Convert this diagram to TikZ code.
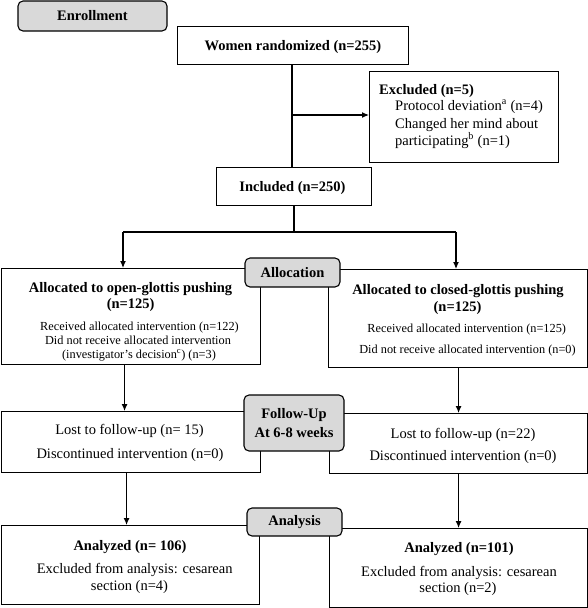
\documentclass[tikz,border=0pt]{standalone}
\usepackage{fontspec}
\setmainfont{Liberation Serif}
\usetikzlibrary{arrows.meta}
\definecolor{labelgray}{RGB}{217,217,217}
\begin{document}
\begin{tikzpicture}[x=1pt,y=-1pt,
  box/.style={draw, line width=1.1pt, inner sep=0pt, anchor=north west},
  stage/.style={draw, line width=1.1pt, fill=labelgray, rounded corners=5pt, inner sep=0pt,
     font=\fontsize{14.5}{19}\selectfont\bfseries, align=center},
  big/.style={font=\fontsize{14.5}{17}\selectfont, inner sep=0pt, anchor=base},
  bigb/.style={font=\fontsize{14.5}{17}\selectfont\bfseries, inner sep=0pt, anchor=base},
  small/.style={font=\fontsize{12.3}{14}\selectfont, inner sep=0pt, anchor=base},
  conn/.style={line width=1.1pt},
  arr/.style={line width=1.1pt, -{Latex[length=7pt,width=6pt]}}]
\useasboundingbox (0,0) rectangle (588,608);

% boxes
\node[box, minimum width=231pt, minimum height=38pt] (rand) at (177,26) {};
\node[box, minimum width=189pt, minimum height=91pt] (excl) at (369,71) {};
\node[box, minimum width=155pt, minimum height=38pt] (incl) at (216,167) {};
\node[box, minimum width=259pt, minimum height=96pt] (open) at (1,268) {};
\node[box, minimum width=259pt, minimum height=98pt] (closed) at (328,269) {};
\node[box, minimum width=259pt, minimum height=61pt] (fuL) at (1,411) {};
\node[box, minimum width=258pt, minimum height=60pt] (fuR) at (329,413) {};
\node[box, minimum width=258pt, minimum height=79pt] (anL) at (1,525) {};
\node[box, minimum width=258pt, minimum height=79pt] (anR) at (329,528) {};

% connectors
\coordinate (br) at (292,115);
\coordinate (sl) at (123,232);
\coordinate (sr) at (456,232);
\draw[conn] (rand.south -| br) -- (br |- incl.north);
\draw[arr] (br) -- (excl.west |- br);
\draw[conn] (incl.south -| 294,0) -- (294,232);
\draw[conn] (sl) -- (sr);
\draw[arr] (sl) -- (sl |- open.north);
\draw[arr] (sr) -- (sr |- closed.north);
\draw[arr] ([xshift=-6.5pt]open.south) -- ([xshift=-6.5pt]open.south |- fuL.north);
\draw[arr] ([xshift=0.5pt]closed.south) -- ([xshift=0.5pt]closed.south |- fuR.north);
\draw[arr] ([xshift=-4.5pt]fuL.south) -- ([xshift=-4.5pt]fuL.south |- anL.north);
\draw[arr] (fuR.south) -- (fuR.south |- anR.north);

% stage labels
\node[stage, minimum width=149pt, minimum height=30pt] (enr) at (92.5,16) {Enrollment};
\node[stage, minimum width=95pt, minimum height=29pt] (alloc) at (292.5,272.5) {Allocation};
\node[stage, minimum width=100pt, minimum height=56pt] (fu) at (294,423) {Follow-Up\\At 6-8 weeks};
\node[stage, minimum width=95pt, minimum height=28pt] (ana) at (294.5,522) {Analysis};

% texts
\node[bigb] (t-rand) at (293,50.5) {Women randomized (n=255)};
\node[bigb, anchor=base west] (t-excl) at (379,94) {Excluded (n=5)};
\node[big, anchor=base west] (t-excl1) at (395,110) {Protocol deviation\textsuperscript{a} (n=4)};
\node[big, anchor=base west] (t-excl2) at (395,128) {Changed her mind about};
\node[big, anchor=base west] (t-excl3) at (395,145) {participating\textsuperscript{b} (n=1)};
\node[bigb] (t-incl) at (292.5,191) {Included (n=250)};

\node[bigb] (t-open1) at (130.5,292) {Allocated to open-glottis pushing};
\node[bigb] (t-open2) at (130.7,308) {(n=125)};
\node[small] (t-open3) at (139.5,330) {Received allocated intervention (n=122)};
\node[small] (t-open4) at (138,344) {Did not receive allocated intervention};
\node[small] (t-open5) at (139,358) {(investigator’s decision\textsuperscript{c}) (n=3)};

\node[bigb] (t-cl1) at (458,294) {Allocated to closed-glottis pushing};
\node[bigb] (t-cl2) at (457.5,311) {(n=125)};
\node[small] (t-cl3) at (466.7,332) {Received allocated intervention (n=125)};
\node[small] (t-cl4) at (467.5,353) {Did not receive allocated intervention (n=0)};

\node[big] (t-fuL1) at (129.5,434) {Lost to follow-up (n= 15)};
\node[big] (t-fuL2) at (130,458) {Discontinued intervention (n=0)};
\node[big] (t-fuR1) at (463,438) {Lost to follow-up (n=22)};
\node[big] (t-fuR2) at (463,460) {Discontinued intervention (n=0)};

\node[bigb] (t-anL1) at (130,550) {Analyzed (n= 106)};
\node[big] (t-anL2) at (134.7,573) {Excluded from analysis: cesarean};
\node[big] (t-anL3) at (129.5,590) {section (n=4)};
\node[bigb] (t-anR1) at (459,552) {Analyzed (n=101)};
\node[big] (t-anR2) at (459,576) {Excluded from analysis: cesarean};
\node[big] (t-anR3) at (458,592) {section (n=2)};
\end{tikzpicture}
\end{document}
